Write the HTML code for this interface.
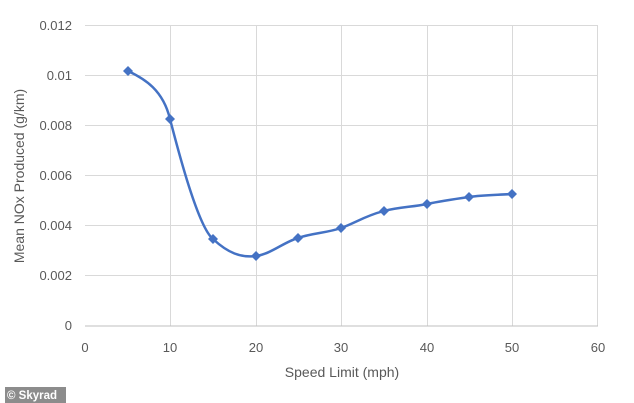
<!DOCTYPE html>
<html><head><meta charset="utf-8"><style>
html,body{margin:0;padding:0;background:#fff;}
svg{display:block;font-family:"Liberation Sans",sans-serif;}
</style></head><body>
<svg width="634" height="403" viewBox="0 0 634 403">
<rect width="634" height="403" fill="#fff"/>
<g stroke="#d9d9d9" stroke-width="1">
<line x1="85" y1="25.5" x2="598" y2="25.5"/>
<line x1="85" y1="75.5" x2="598" y2="75.5"/>
<line x1="85" y1="125.5" x2="598" y2="125.5"/>
<line x1="85" y1="175.5" x2="598" y2="175.5"/>
<line x1="85" y1="225.5" x2="598" y2="225.5"/>
<line x1="85" y1="275.5" x2="598" y2="275.5"/>
<line x1="170.5" y1="25" x2="170.5" y2="326"/>
<line x1="256.5" y1="25" x2="256.5" y2="326"/>
<line x1="341.5" y1="25" x2="341.5" y2="326"/>
<line x1="427.5" y1="25" x2="427.5" y2="326"/>
<line x1="512.5" y1="25" x2="512.5" y2="326"/>
<line x1="597.5" y1="25" x2="597.5" y2="326"/>
</g>
<line x1="85" y1="326" x2="598" y2="326" stroke="#bfbfbf"/>
<g font-size="13" fill="#595959" text-anchor="end">
<text x="72" y="30">0.012</text>
<text x="72" y="80">0.01</text>
<text x="72" y="130">0.008</text>
<text x="72" y="180">0.006</text>
<text x="72" y="230">0.004</text>
<text x="72" y="280">0.002</text>
<text x="72" y="330">0</text>
</g>
<g font-size="13" fill="#595959" text-anchor="middle">
<text x="85" y="352">0</text>
<text x="170" y="352">10</text>
<text x="256" y="352">20</text>
<text x="341" y="352">30</text>
<text x="427" y="352">40</text>
<text x="512" y="352">50</text>
<text x="598" y="352">60</text>
</g>
<text x="342" y="377" font-size="14" fill="#595959" text-anchor="middle">Speed Limit (mph)</text>
<text transform="translate(24,176) rotate(-90)" font-size="14" fill="#595959" text-anchor="middle">Mean NOx Produced (g/km)</text>
<path d="M128,71 C145,79 163,90 170,119 C178,150 198,227 213,239 C228,253 241,258 256,256 C271,254 284,242 298,238 C312,233 327,233 341,228 C355,223 367,215 384,211 C399,207 413,207 427,204 C441,201 455,199 469,197 C483,195 497,195 512,194" fill="none" stroke="#4472c4" stroke-width="2.5"/>
<g fill="#4472c4">
<path d="M128,66 l5,5 -5,5 -5,-5z"/>
<path d="M170,114 l5,5 -5,5 -5,-5z"/>
<path d="M213,234 l5,5 -5,5 -5,-5z"/>
<path d="M256,251 l5,5 -5,5 -5,-5z"/>
<path d="M298,233 l5,5 -5,5 -5,-5z"/>
<path d="M341,223 l5,5 -5,5 -5,-5z"/>
<path d="M384,206 l5,5 -5,5 -5,-5z"/>
<path d="M427,199 l5,5 -5,5 -5,-5z"/>
<path d="M469,192 l5,5 -5,5 -5,-5z"/>
<path d="M512,189 l5,5 -5,5 -5,-5z"/>
</g>
<rect x="5" y="387" width="61" height="16" fill="#8c8c8c"/>
<text x="7" y="399" font-size="11.5" font-weight="bold" fill="#fff">© Skyrad</text>
</svg>
</body></html>
